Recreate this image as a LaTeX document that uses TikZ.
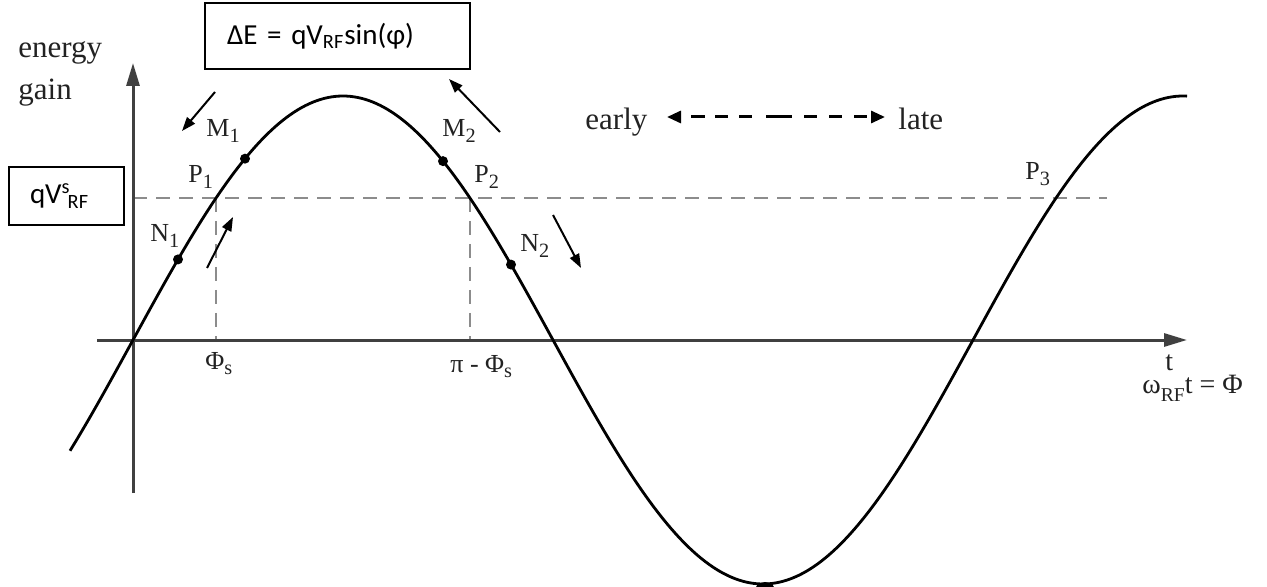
\documentclass[tikz,border=0pt]{standalone}
\usepackage{fontspec}
\setmainfont{Liberation Serif}
\newfontfamily\calfont{Carlito}
\usetikzlibrary{arrows.meta}
\definecolor{axisgray}{HTML}{404040}
\definecolor{dashgray}{HTML}{8C8C8C}
\definecolor{labelgray}{HTML}{222222}
\newcommand\lsub[1]{\raisebox{-0.5ex}{\scalebox{0.78}{#1}}}
\pgfmathdeclarefunction{wave}{1}{\pgfmathparse{340-244*sin((#1-133)*3/7)}}
\tikzset{
 axisline/.style={line width=1.5pt, draw=axisgray, -{Triangle[length=11.5pt,width=6.5pt]}},
 curveline/.style={line width=1.4pt, draw=black},
 guide/.style={line width=1pt, draw=dashgray, dash pattern=on 7pt off 4.5pt},
 motion/.style={line width=1pt, draw=black, -{Triangle[length=7pt,width=5pt]}},
 ptlabel/.style={anchor=base west, inner sep=0pt, text=labelgray, font=\fontsize{13}{15}\selectfont},
 axlabel/.style={anchor=base west, inner sep=0pt, text=labelgray, font=\fontsize{13}{15}\selectfont},
 tlabel/.style={anchor=base west, inner sep=0pt, text=labelgray, font=\fontsize{14}{16}\selectfont},
 bigtext/.style={anchor=base west, inner sep=0pt, text=labelgray, font=\fontsize{15.5}{18}\selectfont},
 boxnode/.style={draw=black, line width=1pt, font=\calfont\fontsize{14.5}{16}\selectfont, align=left, inner ysep=0pt},
 dotmark/.style={circle, fill=black, inner sep=0pt, minimum size=5pt},
 timearrow/.style={line width=1.5pt, draw=black, {Triangle[length=7pt,width=6pt]}-{Triangle[length=7pt,width=6pt]},
   dash pattern=on 0pt off 5.5pt on 7pt off 5pt on 6.5pt off 5.5pt on 6.5pt off 7pt on 13pt off 6pt on 6.5pt off 6pt on 6.5pt off 6pt on 6.5pt off 20pt},
}
\begin{document}
\begin{tikzpicture}[x=0.5pt,y=-0.5pt]
\useasboundingbox (0,0) rectangle (1267,587);
\pgfmathsetmacro{\xoff}{asin(142/244)*7/3}
% guides
\coordinate (hl) at (133,198);
\coordinate (hr) at (1107,198);
\coordinate (v1t) at ({133+\xoff},198);
\coordinate (v1b) at ({133+\xoff},340);
\coordinate (v2t) at ({553-\xoff},198);
\coordinate (v2b) at ({553-\xoff},340);
\draw[guide] (hl) -- (hr);
\draw[guide] (v1t) -- (v1b);
\draw[guide] (v2t) -- (v2b);
% axes
\coordinate (yb) at (133,493);
\coordinate (yt) at (133,63);
\coordinate (xl) at (97,340);
\coordinate (xr) at (1187,340);
\draw[axisline] (yb) -- (yt);
\draw[axisline] (xl) -- (xr);
% curve
\draw[curveline] plot[domain=70:1187,samples=300] (\x,{wave(\x)});
% dots
\node[dotmark] (m1) at (245,{wave(245)}) {};
\node[dotmark] (n1) at (178,{wave(178)}) {};
\node[dotmark] (m2) at (443,{wave(443)}) {};
\node[dotmark] (n2) at (511,{wave(511)}) {};
\node[dotmark, minimum size=11pt] (trough) at (765,593) {};
% motion arrows
\coordinate (a1s) at (215,92);  \coordinate (a1e) at (182,131);
\coordinate (a2s) at (207,268); \coordinate (a2e) at (233,217);
\coordinate (a3s) at (500,132); \coordinate (a3e) at (449,79);
\coordinate (a4s) at (553,215); \coordinate (a4e) at (581,268);
\draw[motion] (a1s) -- (a1e);
\draw[motion] (a2s) -- (a2e);
\draw[motion] (a3s) -- (a3e);
\draw[motion] (a4s) -- (a4e);
% labels
\node[bigtext] (energy) at (18,58) {energy};
\node[bigtext] (gain) at (18,100) {gain};
\node[ptlabel] (lM1) at (206,137) {M\lsub{1}};
\node[ptlabel] (lP1) at (188,183) {P\lsub{1}};
\node[ptlabel] (lN1) at (150,242) {N\lsub{1}};
\node[ptlabel] (lM2) at (442,137) {M\lsub{2}};
\node[ptlabel] (lP2) at (474,183) {P\lsub{2}};
\node[ptlabel] (lN2) at (520,252) {N\lsub{2}};
\node[ptlabel] (lP3) at (1025,180) {P\lsub{3}};
\node[axlabel] (lphis) at (205,369) {Φ\lsub{s}};
\node[axlabel] (lpiphis) at (450,372) {π - Φ\lsub{s}};
\node[tlabel] (lt) at (1165,370) {t};
\node[tlabel] (lomega) at (1142,393) {ω\raisebox{-0.7ex}{\scalebox{0.7}{RF}}t = Φ};
% early / late
\node[bigtext] (early) at (585,130) {early};
\node[bigtext] (late) at (898,130) {late};
\coordinate (elL) at (667,117);
\coordinate (elR) at (885,117);
\draw[timearrow] (elL) -- (elR);
% boxes
\node[boxnode, minimum width=132.5pt, minimum height=33pt, text width=110.5pt, inner xsep=11pt] (dE) at (337.5,36) {ΔE = qV\textsubscript{RF}sin(φ)};
\node[boxnode, minimum width=57.5pt, minimum height=29pt, text width=36.5pt, inner xsep=10.5pt] (qv) at (66.5,196) {qV\textsuperscript{s}\kern-0.1em\textsubscript{RF}};
\end{tikzpicture}
\end{document}
